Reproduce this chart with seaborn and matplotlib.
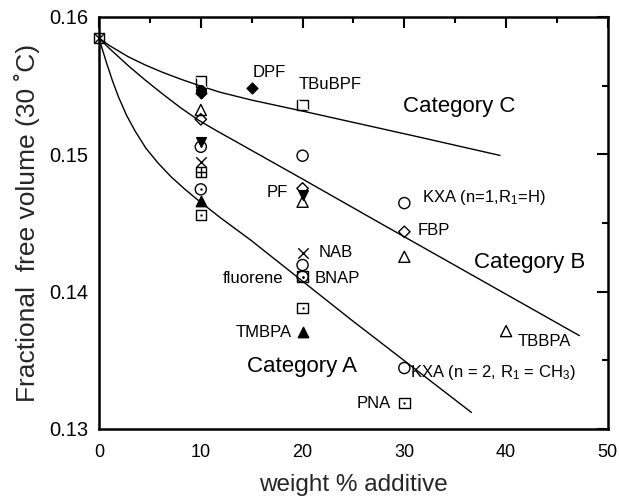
import matplotlib
matplotlib.use('Agg')
import pandas as pd
import matplotlib.pyplot as plt
from matplotlib.path import Path
import seaborn as sns

# кривые категорий A, B, C (точки)
curve_a_x = [0, 0.26, 0.75, 1.3, 1.9, 2.7, 3.54, 4.6, 5.83, 7.1, 8.45, 9.75, 11.9, 15, 24.7, 36.6]
curve_a_y = [0.15847, 0.15780, 0.15663, 0.15540, 0.15420, 0.15285, 0.15170, 0.15045, 0.14934,
             0.14835, 0.14745, 0.14665, 0.14540, 0.14370, 0.13800, 0.13120]
curve_b_x = [0, 1, 2.88, 4.5, 6.15, 8, 9.75, 11.4, 14, 20, 27.6, 47.2]
curve_b_y = [0.15847, 0.15772, 0.15645, 0.15543, 0.15445, 0.15340, 0.15250, 0.15178, 0.15070,
             0.14820, 0.14500, 0.13680]
curve_c_x = [0, 1, 2.88, 4.5, 6.15, 8, 9.75, 11.9, 15, 20, 31.5, 39.4]
curve_c_y = [0.15847, 0.15793, 0.15710, 0.15652, 0.15600, 0.15548, 0.15503, 0.15452, 0.15395,
             0.15315, 0.15125, 0.14992]

# точки по типу маркера
open_circle_x = [10, 20, 20, 30, 30]
open_circle_y = [0.15055, 0.1499, 0.14194, 0.14645, 0.13444]
dot_circle_x = [10, 20]
dot_circle_y = [0.14745, 0.14109]
dot_square_x = [10, 20, 20, 30]
dot_square_y = [0.14558, 0.13883, 0.14109, 0.13189]
plus_square_x = [10]
plus_square_y = [0.14873]
diag_square_x = [10, 20]
diag_square_y = [0.15529, 0.15359]
cross_square_x = [0]
cross_square_y = [0.15847]
cross_x = [10, 20]
cross_y = [0.14942, 0.14279]
filled_circle_x = [10]
filled_circle_y = [0.1547]
filled_diamond_x = [10, 15]
filled_diamond_y = [0.1545, 0.1548]
open_triangle_x = [10, 20, 30, 40]
open_triangle_y = [0.15323, 0.14655, 0.14254, 0.13713]
open_diamond_x = [10, 20, 30]
open_diamond_y = [0.15255, 0.14752, 0.14436]
filled_triangle_x = [10, 20]
filled_triangle_y = [0.14662, 0.13708]
filled_down_x = [10, 20]
filled_down_y = [0.1509, 0.14704]

# подписи
labels = ['DPF', 'TBuBPF', 'PF', r'KXA (n=1,R$_1$=H)', 'FBP', 'NAB', 'BNAP', 'fluorene',
          'TMBPA', 'TBBPA', r'KXA (n = 2, R$_1$ = CH$_3$)', 'PNA']
label_x = [15.1, 19.6, 18.6, 31.7, 31.3, 21.6, 21.2, 18.1, 18.9, 41.1, 30.6, 28.7]
label_y = [0.15594, 0.15505, 0.1472, 0.14689, 0.14449, 0.14288, 0.14099, 0.14099,
           0.13703, 0.13635, 0.13409, 0.13187]
label_ha = ['left', 'left', 'right', 'left', 'left', 'left', 'left', 'right',
            'right', 'left', 'left', 'right']

categories = ['Category C', 'Category B', 'Category A']
category_x = [29.9, 36.8, 14.5]
category_y = [0.15347, 0.14211, 0.13453]


def scatter(ax, xs, ys, marker, size, filled, lw=1.0):
    df = pd.DataFrame({'x': xs, 'y': ys})
    sns.scatterplot(data=df, x='x', y='y', ax=ax, marker=marker, s=size ** 2,
                    color='black', facecolor='black' if filled else 'none',
                    edgecolor='black', linewidth=lw, clip_on=False, zorder=3)


def lines(ax, xs, ys, marker, size):
    # маркеры-линии (x, +, диагональ) рисуются цветом заливки
    df = pd.DataFrame({'x': xs, 'y': ys})
    sns.scatterplot(data=df, x='x', y='y', ax=ax, marker=marker, s=size ** 2,
                    color='black', linewidth=1.0, clip_on=False, zorder=4)


def main():
    sns.set_style('white')
    plt.rcParams['font.family'] = ['Liberation Sans', 'DejaVu Sans']
    plt.rcParams['mathtext.fontset'] = 'custom'
    plt.rcParams['mathtext.rm'] = 'Liberation Sans'
    plt.rcParams['mathtext.it'] = 'Liberation Sans'
    plt.rcParams['mathtext.default'] = 'regular'

    fig = plt.figure(figsize=(6.19, 5.0), dpi=100)
    ax = fig.add_axes([0.160, 0.142, 0.822, 0.824])

    for cx, cy in [(curve_a_x, curve_a_y), (curve_b_x, curve_b_y), (curve_c_x, curve_c_y)]:
        sns.lineplot(x=cx, y=cy, ax=ax, color='black', linewidth=1.0, sort=False,
                     estimator=None, zorder=2)

    diag = Path([(-1, 1), (1, -1)], [Path.MOVETO, Path.LINETO])

    scatter(ax, open_circle_x, open_circle_y, 'o', 8, False)
    scatter(ax, dot_circle_x, dot_circle_y, 'o', 8, False)
    scatter(ax, dot_square_x, dot_square_y, 's', 7.5, False)
    scatter(ax, dot_square_x + dot_circle_x, dot_square_y + dot_circle_y, 'o', 1.3, True, lw=0.3)
    scatter(ax, plus_square_x, plus_square_y, 's', 7.5, False)
    lines(ax, plus_square_x, plus_square_y, '+', 7.5)
    scatter(ax, diag_square_x, diag_square_y, 's', 7.5, False)
    lines(ax, diag_square_x, diag_square_y, diag, 7.5)
    scatter(ax, cross_square_x, cross_square_y, 's', 7.5, False)
    lines(ax, cross_square_x, cross_square_y, 'x', 7.5)
    lines(ax, cross_x, cross_y, 'x', 7.5)
    scatter(ax, filled_circle_x, filled_circle_y, 'o', 7, True)
    scatter(ax, filled_diamond_x, filled_diamond_y, 'D', 5.5, True)
    scatter(ax, open_triangle_x, open_triangle_y, '^', 8, False)
    scatter(ax, open_diamond_x, open_diamond_y, 'D', 5.8, False)
    scatter(ax, filled_triangle_x, filled_triangle_y, '^', 7.5, True)
    scatter(ax, filled_down_x, filled_down_y, 'v', 7, True)

    for t, x, y, ha in zip(labels, label_x, label_y, label_ha):
        ax.text(x, y, t, ha=ha, va='center', fontsize=12, color='black')
    for t, x, y in zip(categories, category_x, category_y):
        ax.text(x, y, t, ha='left', va='center', fontsize=16, color='black')

    ax.set_xlim(0, 50)
    ax.set_ylim(0.13, 0.16)
    ax.set_xticks([0, 10, 20, 30, 40, 50])
    ax.set_xticks([5, 15, 25, 35, 45], minor=True)
    ax.set_yticks([0.13, 0.14, 0.15, 0.16])
    ax.set_yticks([0.135, 0.145, 0.155], minor=True)
    ax.set_yticklabels(['0.13', '0.14', '0.15', '0.16'])
    ax.tick_params(which='both', direction='in', top=True, right=True, width=1.5,
                   colors='black')
    ax.tick_params(which='major', length=8)
    ax.tick_params(which='minor', length=4.3)
    ax.tick_params(axis='x', pad=11, labelsize=13)
    ax.tick_params(axis='y', pad=8, labelsize=14.5)
    for s in ax.spines.values():
        s.set_linewidth(1.8)
        s.set_color('black')

    ax.set_xlabel('weight % additive', fontsize=17.5, labelpad=9)
    ax.set_ylabel('Fractional  free volume (30 ˚C)', fontsize=19, labelpad=6)

    fig.savefig('out.png', dpi=100)


if __name__ == '__main__':
    main()
